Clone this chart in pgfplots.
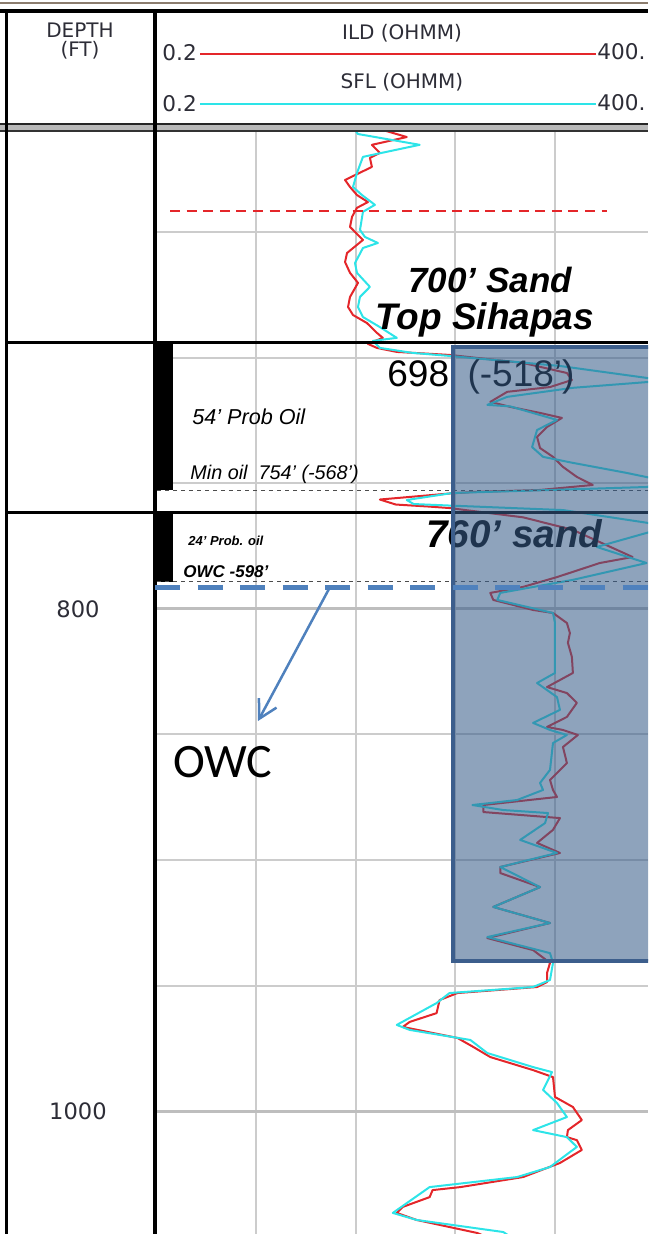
\documentclass[border=0pt]{standalone}
\usepackage{pgfplots}
\pgfplotsset{compat=1.18}
\usepackage{fontspec}
\setmainfont{Liberation Sans}
\newfontfamily\hdr{DejaVu Sans}
\newfontfamily\calib{Carlito}
\usetikzlibrary{arrows.meta}

\definecolor{ild}{RGB}{228,38,42}
\definecolor{sfl}{RGB}{45,228,232}
\definecolor{gridg}{RGB}{204,204,204}
\definecolor{gridmaj}{RGB}{190,190,190}
\definecolor{hdrtext}{RGB}{45,45,55}
\definecolor{boxfill}{RGB}{56,93,138}
\definecolor{boxedge}{RGB}{60,94,140}
\definecolor{owcblue}{RGB}{79,129,189}
\definecolor{topline}{RGB}{140,125,110}

\begin{document}
\begin{tikzpicture}
\begin{axis}[
  at={(78.5pt,-65pt)}, anchor=north west,
  width=245.5pt, height=552pt, scale only axis,
  xmin=0, xmax=4.935, ymin=609.2, ymax=1049, y dir=reverse,
  axis line style={draw=none},
  xtick={1,2,3,4}, xticklabels={},
  ytick={800,1000}, yticklabels={800,1000},
  minor ytick={650,700,750,850,900,950},
  major tick length=0pt, minor tick length=0pt,
  grid=both,
  major x grid style={gridg, line width=1pt},
  major y grid style={gridmaj, line width=1.5pt},
  minor y grid style={gridg, line width=1pt},
  yticklabel style={font=\hdr\fontsize{11.3}{13}\selectfont, text=hdrtext,
                    anchor=center, xshift=-39.5pt},
]
% ILD (deep induction)
\addplot[ild, line width=1pt, line join=round] coordinates {
(2.27,609.2) (2.51,612.0) (2.16,615.1) (2.24,618.3) (2.14,620.3) (2.16,623.9)
(1.89,629.1) (1.94,631.9) (2.01,635.1) (2.12,637.9) (2.01,640.2) (1.96,643.8)
(1.94,647.8) (2.02,651.0) (2.07,653.0) (1.91,658.2) (1.89,661.8) (1.94,666.1)
(2.02,670.1) (1.94,675.7) (1.92,679.7) (1.97,682.9) (2.11,686.1) (2.21,690.0)
(2.27,692.0) (2.12,694.4) (2.21,696.0) (2.41,697.6) (2.94,698.8) (3.68,702.0)
(4.12,706.0) (4.17,708.8) (3.95,711.6) (3.52,713.5) (3.35,717.5) (3.55,719.5)
(3.85,721.9) (4.07,723.9) (3.92,727.5) (3.82,731.5) (3.85,735.9) (3.98,739.4)
(4.08,743.4) (4.22,747.4) (4.38,750.6) (3.85,752.6) (3.18,753.4) (2.94,754.0)
(2.24,756.4) (2.40,758.4) (2.73,759.2) (2.94,759.8) (3.68,763.5) (4.18,768.5)
(4.78,779.3) (4.45,781.7) (4.02,787.3) (3.68,791.2) (3.35,793.6) (3.38,796.4)
(3.78,800.4) (3.98,801.6) (4.12,805.6) (4.15,809.6) (4.13,813.5) (4.17,819.1)
(4.18,825.5) (3.92,831.1) (4.12,833.5) (4.22,837.4) (4.12,843.0) (3.92,847.0)
(4.08,848.2) (4.23,850.2) (4.08,855.0) (4.12,861.4) (3.95,868.1) (3.98,872.1)
(4.02,874.9) (3.28,878.1) (3.28,880.9) (4.05,883.3) (3.98,888.0) (3.82,893.2)
(4.05,897.2) (3.45,902.8) (3.45,905.2) (3.85,910.8) (3.38,918.7) (3.95,925.1)
(3.32,931.1) (3.78,935.9) (3.95,941.0) (3.92,945.0) (3.92,948.6) (3.82,950.6)
(3.02,953.0) (2.84,955.8) (2.81,961.0) (2.54,964.5) (2.47,966.5) (3.02,970.9)
(3.18,974.5) (3.35,978.5) (3.78,983.7) (3.98,986.5) (4.00,994.4) (4.18,998.4)
(4.27,1003.6) (4.13,1007.6) (4.12,1010.4) (4.22,1011.6) (4.27,1015.5) (4.05,1020.7)
(3.68,1026.3) (3.05,1030.3) (2.77,1031.5) (2.74,1034.3) (2.47,1038.2) (2.41,1040.6)
(2.61,1043.4) (3.22,1048.6) (3.30,1050.0)
};
% SFL (spherically focused)
\addplot[sfl, line width=1pt, line join=round] coordinates {
(1.99,609.2) (2.02,610.8) (2.64,615.1) (2.07,619.9) (2.01,626.3) (1.97,631.9)
(2.06,635.1) (2.19,639.0) (2.07,641.8) (2.04,649.0) (2.09,651.8) (2.22,654.2)
(2.07,656.2) (1.99,662.2) (2.01,666.1) (2.14,671.7) (2.04,675.7) (2.02,679.7)
(2.07,683.7) (2.24,687.7) (2.41,692.0) (2.17,693.2) (2.24,696.0) (2.57,698.0)
(2.94,699.2) (4.05,703.2) (4.93,708.0) (5.06,709.2) (4.18,711.9) (3.52,715.5)
(3.32,718.7) (3.55,719.3) (4.02,724.7) (3.82,728.7) (3.77,735.5) (3.88,739.4)
(4.18,741.8) (4.72,745.8) (5.06,748.6) (4.93,751.4) (2.97,753.8) (2.51,756.6)
(2.58,758.2) (2.94,758.8) (4.08,760.6) (4.93,765.7) (5.10,767.7) (4.42,775.3)
(4.92,781.7) (4.18,788.4) (3.45,793.6) (3.42,796.4) (3.98,801.6) (4.00,805.6)
(4.00,825.5) (3.82,829.5) (3.92,832.3) (4.02,835.1) (4.05,840.2) (3.78,845.4)
(3.95,848.2) (4.12,850.2) (3.98,853.4) (3.95,864.1) (3.85,869.3) (3.88,872.1)
(3.62,876.1) (3.17,878.1) (3.48,880.1) (3.93,881.3) (3.90,885.3) (3.65,892.0)
(4.02,897.2) (3.45,902.8) (3.85,910.8) (3.38,918.7) (3.95,925.1) (3.32,930.7)
(3.95,937.1) (3.98,941.0) (3.95,947.8) (3.78,950.6) (2.94,953.0) (2.81,957.0)
(2.41,965.7) (2.54,967.7) (3.15,971.7) (3.32,976.9) (3.78,982.5) (3.97,984.5)
(3.88,991.6) (4.02,996.8) (4.12,1002.4) (3.78,1007.6) (4.12,1010.4) (4.22,1014.3)
(3.95,1022.3) (3.62,1026.3) (2.74,1030.3) (2.37,1040.6) (2.61,1043.4) (3.48,1048.2)
(3.55,1050.0)
};
\end{axis}

\begin{scope}[x=0.5pt,y=-0.5pt]
\clip (0,0) rectangle (648,1234);
% ---- header frame ----
\draw[topline, line width=0.8pt] (0,3) -- (648,3);
\draw[black, line width=2pt] (0,11.5) -- (648,11.5);
\fill[gray!55] (0,124.5) rectangle (648,131);
\draw[black!85, line width=1pt] (0,124.5) -- (648,124.5);
\draw[black!80, line width=1pt] (0,131) -- (648,131);
\draw[black, line width=1.6pt] (6.5,10) -- (6.5,1234);
\draw[black, line width=1.8pt] (155,10) -- (155,1234);

% ---- header text ----
\begin{scope}[every node/.style={inner sep=0pt, text=hdrtext}]
\node[anchor=base, font=\hdr\fontsize{10}{12}\selectfont] at (80,38) {DEPTH};
\node[anchor=base, font=\hdr\fontsize{10}{12}\selectfont] at (80,57) {(FT)};
\node[anchor=base, font=\hdr\fontsize{10}{12}\selectfont] at (402,40) {ILD (OHMM)};
\node[anchor=base, font=\hdr\fontsize{10}{12}\selectfont] at (402,89) {SFL (OHMM)};
\node[anchor=base west, font=\hdr\fontsize{10.8}{12}\selectfont] at (162,61) {0.2};
\node[anchor=base west, font=\hdr\fontsize{10.8}{12}\selectfont] at (597,60) {400.};
\node[anchor=base west, font=\hdr\fontsize{10.8}{12}\selectfont] at (162,112) {0.2};
\node[anchor=base west, font=\hdr\fontsize{10.8}{12}\selectfont] at (597,111) {400.};
\end{scope}
\draw[ild, line width=1pt] (200,54) -- (596,54);
\draw[sfl, line width=1pt] (200,104) -- (596,104);

% ---- zone markers ----
\draw[black, line width=1.5pt] (5,343) -- (648,343);
\draw[black, line width=1.5pt] (5,512) -- (648,512);
\fill[black] (153,343) rectangle (173,490);
\fill[black] (153,512) rectangle (173,582);
\draw[black!70, line width=0.5pt, dash pattern=on 2pt off 2pt] (157,490) -- (648,490);
\draw[black!70, line width=0.5pt, dash pattern=on 2pt off 2pt] (157,581) -- (648,581);
\draw[ild, line width=1pt, dash pattern=on 5pt off 3.3pt] (170,211) -- (607,211);

% ---- annotations ----
\begin{scope}[every node/.style={inner sep=0pt, anchor=base west}]
\node[font=\bfseries\itshape\fontsize{17.5}{20}\selectfont] at (408,293) {700’ Sand};
\node[font=\bfseries\itshape\fontsize{18.5}{21}\selectfont] at (375,330) {Top Sihapas};
\node[font=\fontsize{18.5}{21}\selectfont] at (387,387) {698’ (-518’)};
\node[font=\itshape\fontsize{10.8}{13}\selectfont] at (192,425) {54’ Prob Oil};
\node[font=\itshape\fontsize{9.9}{12}\selectfont] at (190,480) {Min oil\ \ 754’ (-568’)};
\node[font=\bfseries\itshape\fontsize{19.3}{22}\selectfont] at (426,547) {760’ sand};
\node[font=\bfseries\itshape\fontsize{6.5}{8}\selectfont] at (188,545) {24’ Prob. oil};
\node[font=\bfseries\itshape\fontsize{8.5}{10}\selectfont] at (183,577) {OWC -598’};
\end{scope}

% ---- interval box ----
\fill[boxfill, fill opacity=0.57] (453,347) rectangle (670,961);
\draw[boxedge, line width=2.2pt] (670,347) -- (453,347) -- (453,961) -- (670,961);

% ---- oil-water contact ----
\draw[owcblue, line width=2.5pt, dash pattern=on 12.5pt off 8.75pt] (155,587) -- (660,587);
\draw[owcblue, line width=1.25pt, -{Straight Barb[length=9pt, width=10pt, line width=1.25pt]}]
  (330,587) -- (258,721);
\node[inner sep=0pt, anchor=base west, font=\calib\fontsize{24}{28}\selectfont] at (173,777) {OWC};
\end{scope}

% page frame: 648 x 1234 units of 0.5pt, origin at top left
\pgfresetboundingbox
\useasboundingbox (0,0) rectangle (324pt,-617pt);
\end{tikzpicture}
\end{document}
